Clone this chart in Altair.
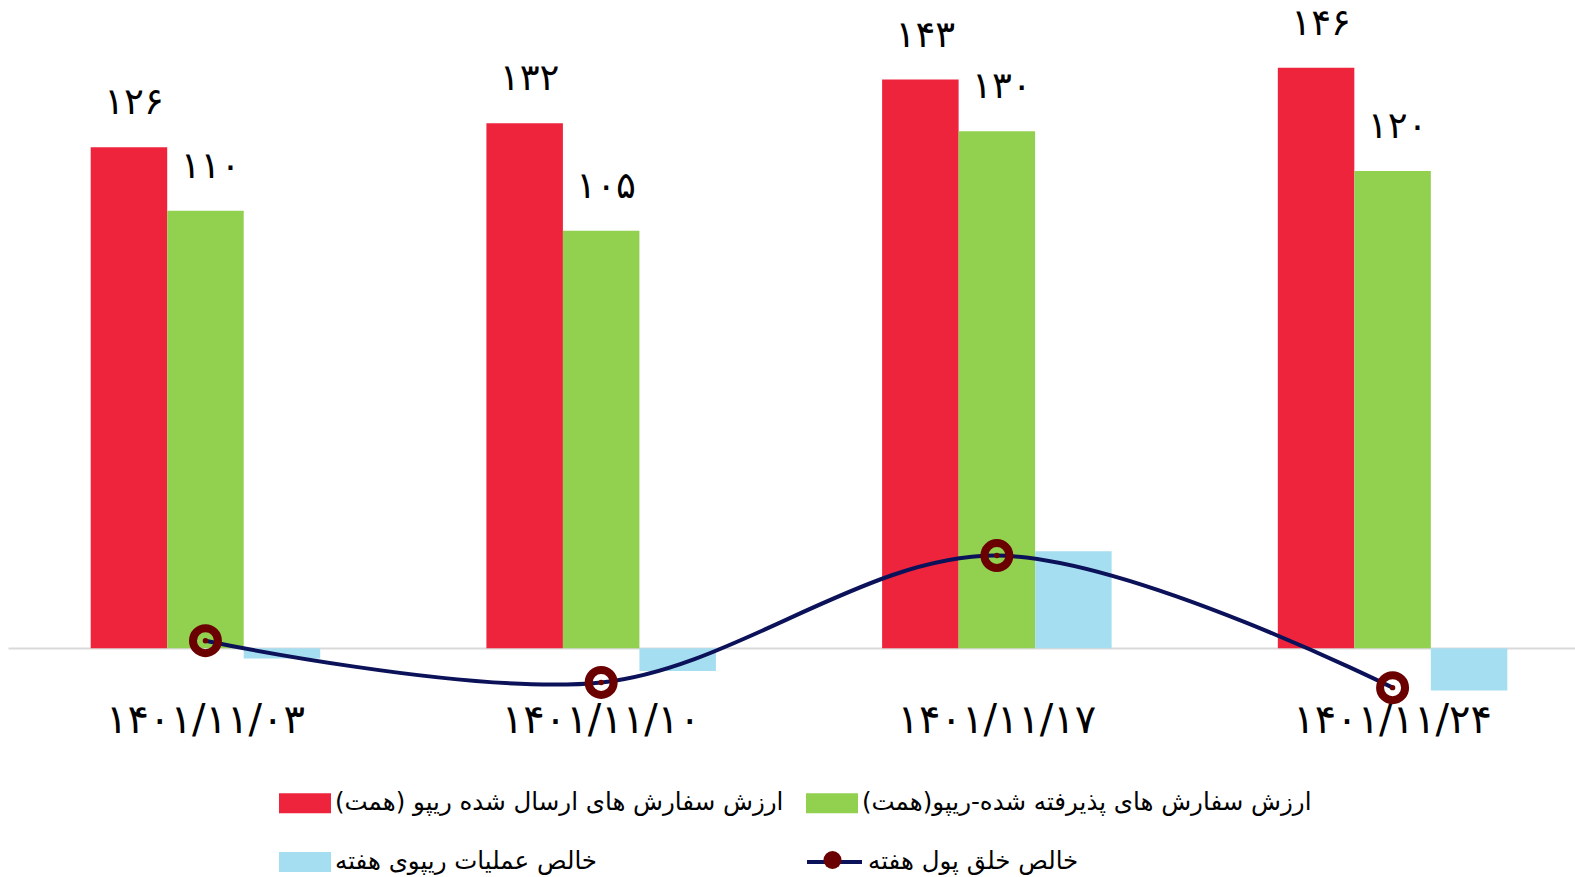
import altair as alt
import pandas as pd

# ---- data -------------------------------------------------------------
dates = ["۱۴۰۱/۱۱/۰۳", "۱۴۰۱/۱۱/۱۰", "۱۴۰۱/۱۱/۱۷", "۱۴۰۱/۱۱/۲۴"]
sent_orders = [126, 132, 143, 146]          # ارزش سفارش های ارسال شده
accepted_orders = [110, 105, 130, 120]      # ارزش سفارش های پذیرفته شده
net_repo = [-2.6, -5.7, 24.4, -10.6]        # خالص عملیات ریپو
net_money = [1.9, -8.6, 23.3, -9.9]         # خالص خلق پول

RLM = "\u200f"  # keeps the Persian labels right-to-left
sent_name = RLM + "ارزش سفارش های ارسال شده ریپو (همت)" + RLM
accepted_name = RLM + "ارزش سفارش های پذیرفته شده-ریپو(همت)" + RLM
repo_name = RLM + "خالص عملیات ریپوی هفته" + RLM
money_name = RLM + "خالص خلق پول هفته" + RLM
marker_name = RLM + "نقطه" + RLM

bar_series = [sent_name, accepted_name, repo_name]
bar_colors = ["#EE243C", "#92D050", "#A6DEF1"]
navy = "#0C1259"
dark_red = "#6B0000"
FONT = "DejaVu Sans"

FA_DIGITS = str.maketrans("0123456789", "۰۱۲۳۴۵۶۷۸۹")


def fa(v):
    return str(v).translate(FA_DIGITS)


rows = []
for i, d in enumerate(dates):
    rows.append({"date": d, "series": sent_name, "value": sent_orders[i], "label": fa(sent_orders[i])})
    rows.append({"date": d, "series": accepted_name, "value": accepted_orders[i], "label": fa(accepted_orders[i])})
    rows.append({"date": d, "series": repo_name, "value": net_repo[i], "label": ""})
bar_df = pd.DataFrame(rows)

line_df = pd.DataFrame({
    "date": dates,
    "value": net_money,
    "series": [money_name] * len(dates),
    "marker": [marker_name] * len(dates),
})

# ---- scales / shared encodings ---------------------------------------
x_scale = alt.Scale(paddingInner=0.42, paddingOuter=0.19, align=0.55)
y_scale = alt.Scale(domain=[-11, 162], nice=False, zero=False)

x_enc = alt.X(
    "date:N", sort=dates, scale=x_scale,
    axis=alt.Axis(title=None, domain=False, ticks=False, labelAngle=0,
                  labelFont=FONT, labelFontSize=40, labelColor="#000000",
                  labelPadding=8, labelLimit=600),
)
y_enc = alt.Y(
    "value:Q", scale=y_scale,
    axis=alt.Axis(title=None, values=[0], grid=True, gridColor="#D9D9D9",
                  gridWidth=2, labels=False, ticks=False, domain=False),
)
offset_enc = alt.XOffset("series:N", sort=bar_series,
                         scale=alt.Scale(domain=bar_series, paddingInner=0, paddingOuter=0))

# legend swatch: wide flat rectangle
rect_symbol = "M-1,-0.385L1,-0.385L1,0.385L-1,0.385Z"

bars = alt.Chart(bar_df).mark_bar().encode(
    x=x_enc,
    xOffset=offset_enc,
    y=y_enc,
    color=alt.Color(
        "series:N", sort=bar_series,
        scale=alt.Scale(domain=bar_series, range=bar_colors),
        legend=alt.Legend(
            title=None, orient="none", legendX=271, legendY=773, columns=2,
            direction="horizontal",
            symbolType=rect_symbol, symbolSize=2704, symbolStrokeWidth=0,
            labelFont=FONT, labelFontSize=24.5, labelColor="#000000",
            labelLimit=900, labelOffset=4, rowPadding=21, columnPadding=22,
            padding=0,
        ),
    ),
)

bar_labels = alt.Chart(bar_df).transform_filter(alt.datum.label != "").mark_text(
    font=FONT, fontSize=37, color="#000000", baseline="alphabetic", dy=-33, dx=5,
).encode(
    x=x_enc,
    xOffset=offset_enc,
    y=y_enc,
    text="label:N",
)

line = alt.Chart(line_df).mark_line(
    interpolate="catmull-rom", strokeWidth=4, strokeCap="round",
).encode(
    x=x_enc,
    y=y_enc,
    stroke=alt.Stroke(
        "series:N",
        scale=alt.Scale(domain=[money_name], range=[navy]),
        legend=alt.Legend(
            title=None, orient="none", legendX=797, legendY=828.5,
            symbolType="stroke", symbolSize=3025, symbolStrokeWidth=4,
            labelFont=FONT, labelFontSize=24.5, labelColor="#000000",
            labelLimit=900, labelOffset=4, padding=0, zindex=1,
        ),
    ),
)

# hollow ring marker with a small centre dot
rings = alt.Chart(line_df).mark_point(
    shape="circle", size=625, filled=False, strokeWidth=8, color=dark_red, opacity=1,
).encode(x=x_enc, y=y_enc)

dots = alt.Chart(line_df).mark_point(
    shape="circle", size=30, filled=True, opacity=1,
).encode(
    x=x_enc,
    y=y_enc,
    fill=alt.Fill(
        "marker:N",
        scale=alt.Scale(domain=[marker_name], range=[dark_red]),
        legend=alt.Legend(
            title=None, orient="none", legendX=815.5, legendY=847,
            symbolType="circle", symbolSize=324, symbolStrokeWidth=0,
            labelExpr="''", labelFontSize=1, padding=0, zindex=2,
        ),
    ),
)

chart = alt.layer(bars, bar_labels, line, rings, dots).resolve_scale(
    color="independent", fill="independent", stroke="independent",
).properties(
    width=1567, height=688,
    autosize=alt.AutoSizeParams(type="none"),
    padding={"left": 8, "top": 4, "right": 0, "bottom": 185},
    background="#FFFFFF",
).configure_view(strokeWidth=0)

chart.save("out.html", embed_options={"renderer": "svg", "actions": False})
